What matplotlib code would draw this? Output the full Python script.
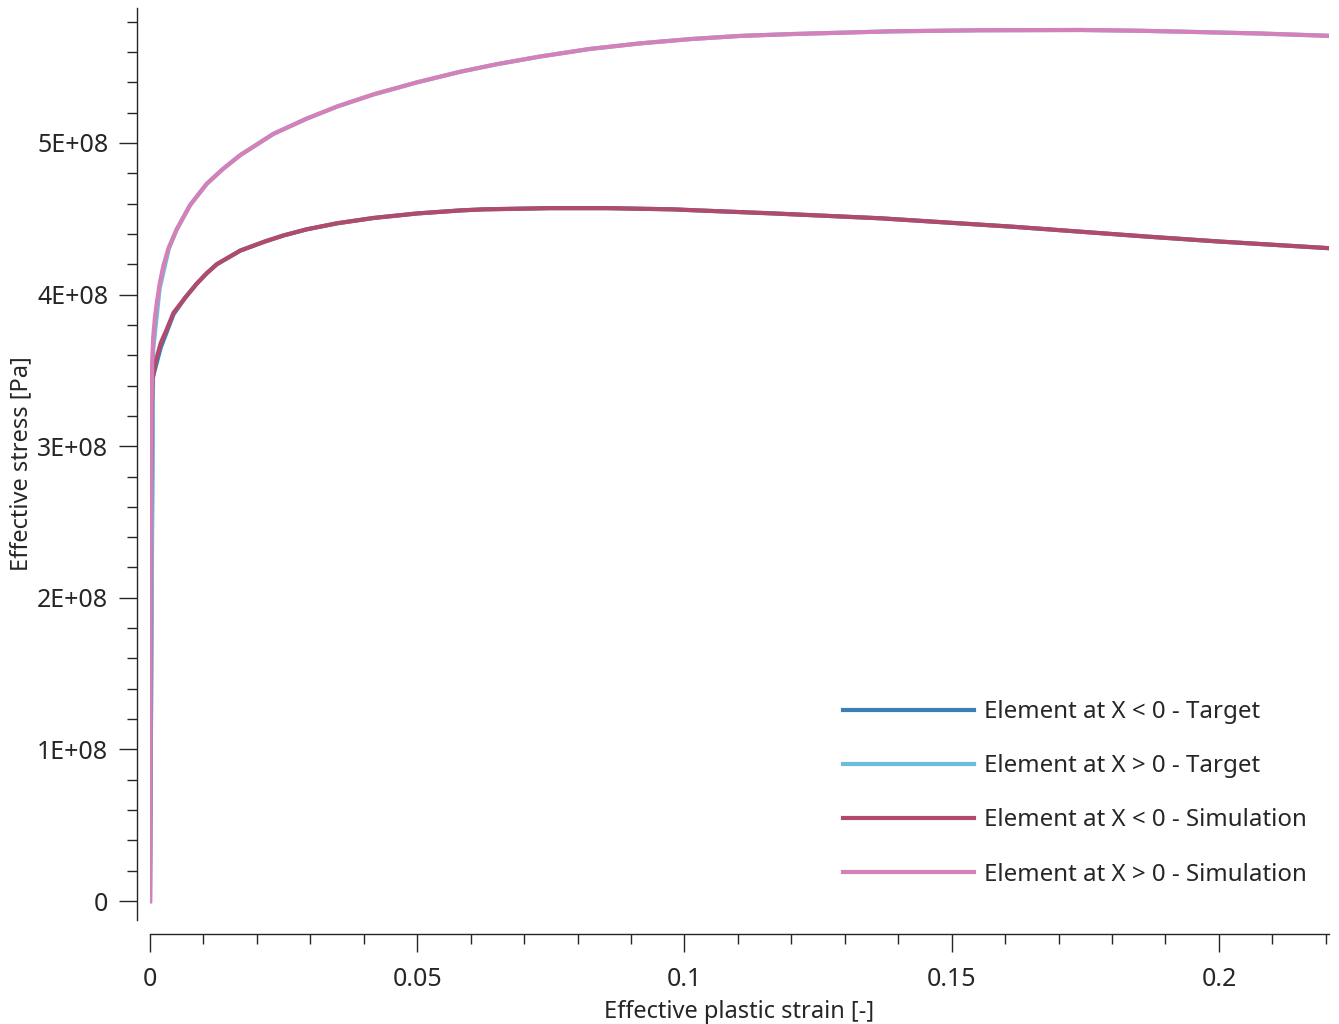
import numpy as np
import matplotlib
matplotlib.use('Agg')
import matplotlib.pyplot as plt
from matplotlib.ticker import MultipleLocator, FuncFormatter

plt.rcParams['font.family'] = ['Noto Sans', 'DejaVu Sans']

# effective plastic strain [-] / effective stress [Pa]
sim_neg_x = [0.0, 0.0001, 0.0003, 0.0005, 0.001, 0.002, 0.003, 0.0044, 0.0066, 0.0087,
             0.0106, 0.0125, 0.0169, 0.0215, 0.025, 0.0293, 0.035, 0.0418, 0.05, 0.0581,
             0.0624, 0.0749, 0.0855, 0.0979, 0.1011, 0.1167, 0.1367, 0.1616, 0.1867, 0.2,
             0.221]
sim_neg_y = [0.0, 2.0e8, 3.2e8, 3.45e8, 3.55e8, 3.68e8, 3.76e8, 3.88e8, 3.98e8, 4.07e8,
             4.14e8, 4.20e8, 4.29e8, 4.35e8, 4.39e8, 4.43e8, 4.47e8, 4.505e8, 4.535e8, 4.555e8,
             4.562e8, 4.570e8, 4.570e8, 4.562e8, 4.557e8, 4.535e8, 4.503e8, 4.447e8, 4.382e8, 4.35e8,
             4.305e8]

sim_pos_x = [0.0, 0.0001, 0.0002, 0.0004, 0.0006, 0.0009, 0.00125, 0.0018, 0.0025, 0.0035,
             0.005, 0.0075, 0.0106, 0.0137, 0.0169, 0.02, 0.0231, 0.0293, 0.035, 0.0418,
             0.05, 0.0581, 0.065, 0.073, 0.0823, 0.0918, 0.1011, 0.1105, 0.12, 0.1292,
             0.1386, 0.155, 0.1742, 0.185, 0.1929, 0.2075, 0.221]
sim_pos_y = [0.0, 1.8e8, 3.0e8, 3.55e8, 3.72e8, 3.84e8, 3.94e8, 4.07e8, 4.19e8, 4.31e8,
             4.43e8, 4.59e8, 4.73e8, 4.83e8, 4.92e8, 4.99e8, 5.06e8, 5.16e8, 5.24e8, 5.32e8,
             5.40e8, 5.47e8, 5.52e8, 5.57e8, 5.62e8, 5.657e8, 5.685e8, 5.706e8, 5.718e8, 5.727e8,
             5.736e8, 5.743e8, 5.745e8, 5.740e8, 5.734e8, 5.722e8, 5.706e8]

tgt_neg_x = [0.0, 0.0005, 0.002, 0.0044, 0.0066, 0.0087, 0.0106, 0.0125, 0.0169, 0.0215,
             0.025, 0.0293, 0.035, 0.0418, 0.05, 0.0581, 0.0624, 0.0749, 0.0855, 0.0979,
             0.1011, 0.1167, 0.1367, 0.1616, 0.1867, 0.2, 0.221]
tgt_neg_y = [0.0, 3.45e8, 3.65e8, 3.87e8, 3.98e8, 4.07e8, 4.14e8, 4.20e8, 4.29e8, 4.35e8,
             4.39e8, 4.43e8, 4.47e8, 4.505e8, 4.535e8, 4.555e8, 4.562e8, 4.570e8, 4.570e8, 4.562e8,
             4.557e8, 4.535e8, 4.503e8, 4.447e8, 4.382e8, 4.35e8, 4.305e8]

tgt_pos_x = [0.0, 0.0006, 0.0018, 0.0035, 0.005, 0.0075, 0.0106, 0.0137, 0.0169, 0.02,
             0.0231, 0.0293, 0.035, 0.0418, 0.05, 0.0581, 0.065, 0.073, 0.0823, 0.0918,
             0.1011, 0.1105, 0.12, 0.1292, 0.1386, 0.155, 0.1742, 0.185, 0.1929, 0.2075,
             0.221]
tgt_pos_y = [0.0, 3.64e8, 4.04e8, 4.30e8, 4.43e8, 4.59e8, 4.73e8, 4.83e8, 4.92e8, 4.99e8,
             5.06e8, 5.16e8, 5.24e8, 5.32e8, 5.40e8, 5.47e8, 5.52e8, 5.57e8, 5.62e8, 5.657e8,
             5.685e8, 5.706e8, 5.718e8, 5.727e8, 5.736e8, 5.743e8, 5.745e8, 5.740e8, 5.734e8, 5.722e8,
             5.706e8]

labels = ['Element at X < 0 - Target', 'Element at X > 0 - Target',
          'Element at X < 0 - Simulation', 'Element at X > 0 - Simulation']
colors = ['#3a7fb6', '#6dbcdb', '#b14a6b', '#d580b8']

fig = plt.figure(figsize=(13.39, 10.24), dpi=100)
ax = fig.add_axes([150 / 1339, 1 - 920 / 1024, (1329 - 150) / 1339, (920 - 8) / 1024])

ax.plot(tgt_neg_x, tgt_neg_y, color=colors[0], lw=3, label=labels[0])
ax.plot(tgt_pos_x, tgt_pos_y, color=colors[1], lw=3, label=labels[1])
ax.plot(sim_neg_x, sim_neg_y, color=colors[2], lw=3, label=labels[2])
ax.plot(sim_pos_x, sim_pos_y, color=colors[3], lw=3, label=labels[3])

ax.set_xlim(0, 0.2206)
ax.set_ylim(-1.25e7, 5.89e8)

dark = '#262626'
for s in ['top', 'right']:
    ax.spines[s].set_visible(False)
ax.spines['left'].set_position(('outward', 9.5))
ax.spines['bottom'].set_position(('outward', 10))
for s in ['left', 'bottom']:
    ax.spines[s].set_color(dark)
    ax.spines[s].set_linewidth(1.0)

ax.xaxis.set_major_locator(MultipleLocator(0.05))
ax.xaxis.set_minor_locator(MultipleLocator(0.01))
ax.yaxis.set_major_locator(MultipleLocator(1e8))
ax.yaxis.set_minor_locator(MultipleLocator(2e7))
ax.xaxis.set_major_formatter(FuncFormatter(lambda v, p: '0' if abs(v) < 1e-12 else ('%g' % v)))
ax.yaxis.set_major_formatter(FuncFormatter(lambda v, p: '0' if abs(v) < 1 else '%dE+08' % round(v / 1e8)))

ax.tick_params(which='major', length=13, width=1.0, color=dark, labelcolor=dark,
               labelsize=18)
ax.tick_params(axis='x', which='major', pad=10.5)
ax.tick_params(axis='y', which='major', pad=7.5)
ax.tick_params(which='minor', length=7, width=1.0, color=dark)

ax.set_xlabel('Effective plastic strain [-]', fontsize=17, color=dark, labelpad=6)
ax.set_ylabel('Effective stress [Pa]', fontsize=17, color=dark, labelpad=3)

ax.legend(loc='lower right', bbox_to_anchor=(1.0, 0.013), frameon=False, fontsize=17.3,
          handlelength=5.45, handletextpad=0.42, labelspacing=1.25, labelcolor=dark)

fig.savefig('out.png', dpi=100)
